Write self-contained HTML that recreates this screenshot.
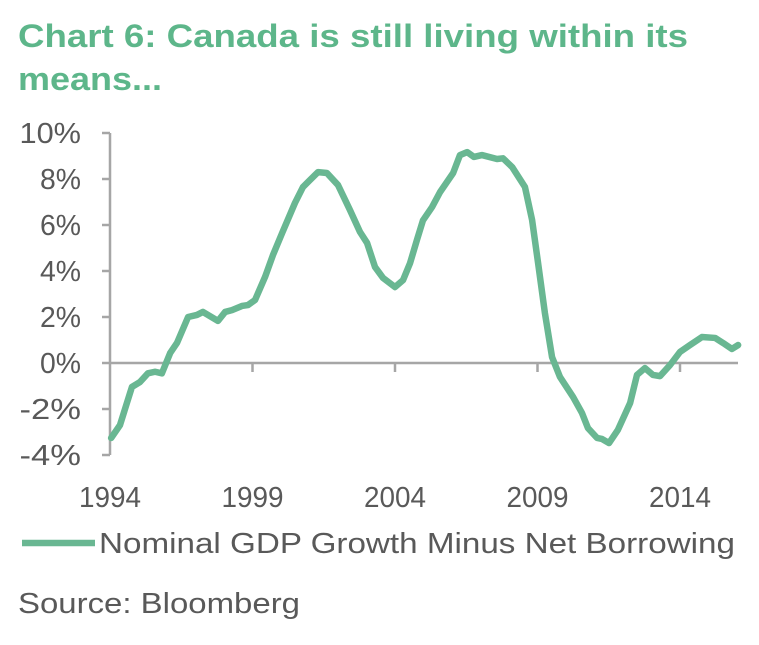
<!DOCTYPE html>
<html><head><meta charset="utf-8"><style>
body{margin:0;background:#fff;width:759px;height:645px;overflow:hidden;font-family:"Liberation Sans",Arial,sans-serif}
</style></head><body>
<svg id="c" width="759" height="645" style="position:absolute;left:0;top:0">
<text x="18" y="47" font-size="32" font-weight="bold" fill="#5db68a" textLength="670" lengthAdjust="spacingAndGlyphs">Chart 6: Canada is still living within its</text>
<text x="18" y="90" font-size="32" font-weight="bold" fill="#5db68a" textLength="144" lengthAdjust="spacingAndGlyphs">means...</text>
</svg>
<script>
const years=[1994.04,1994.35,1994.77,1995.05,1995.33,1995.58,1995.82,1996.11,1996.35,1996.74,1997.05,1997.26,1997.79,1998.04,1998.28,1998.63,1998.84,1999.09,1999.44,1999.72,2000.04,2000.49,2000.77,2001.02,2001.3,2001.61,2002.0,2002.42,2002.77,2003.02,2003.3,2003.58,2004.0,2004.28,2004.53,2004.77,2004.98,2005.3,2005.58,2006.04,2006.28,2006.53,2006.77,2007.05,2007.58,2007.79,2008.11,2008.56,2008.81,2009.02,2009.26,2009.51,2009.79,2010.25,2010.56,2010.77,2011.09,2011.26,2011.51,2011.82,2012.25,2012.49,2012.77,2013.05,2013.3,2013.65,2014.0,2014.35,2014.77,2015.23,2015.51,2015.82,2016.04];
const values=[-3.26,-2.7,-1.04,-0.83,-0.45,-0.38,-0.45,0.43,0.87,2.0,2.09,2.22,1.83,2.22,2.3,2.48,2.52,2.74,3.74,4.7,5.65,6.96,7.65,7.96,8.3,8.26,7.74,6.65,5.7,5.22,4.17,3.7,3.3,3.6,4.35,5.35,6.2,6.78,7.43,8.26,9.04,9.17,8.96,9.04,8.87,8.9,8.52,7.65,6.22,4.35,2.17,0.26,-0.61,-1.48,-2.17,-2.83,-3.26,-3.3,-3.48,-2.91,-1.74,-0.52,-0.22,-0.52,-0.57,-0.09,0.48,0.78,1.13,1.09,0.87,0.61,0.78];
const yTicks=[10,8,6,4,2,0,-2,-4];
const xTicks=[1994,1999,2004,2009,2014];
const NS="http://www.w3.org/2000/svg",svg=document.getElementById('c');
const X=y=>110+(y-1994)*28.5, Y=v=>363-v*23;
function mk(t,a,p){const e=document.createElementNS(NS,t);for(const k in a)e.setAttribute(k,a[k]);(p||svg).appendChild(e);return e;}
const ax=mk('g',{stroke:'#a6a6a6','stroke-width':2.5});


mk('line',{x1:110,y1:Y(10),x2:110,y2:Y(-4)},ax);
mk('line',{x1:110,y1:Y(0),x2:738,y2:Y(0)},ax);
yTicks.forEach(v=>{mk('line',{x1:102,y1:Y(v),x2:110,y2:Y(v)},ax);
const s=v+'%';
const t=mk('text',{x:81,y:Y(v)+10,'text-anchor':'end','font-size':29,fill:'#595959',textLength:s.length*20.5,lengthAdjust:'spacingAndGlyphs'});t.textContent=s;

});
xTicks.forEach(v=>{if(v>1994)mk('line',{x1:X(v),y1:Y(0),x2:X(v),y2:Y(0)+9},ax);
const t=mk('text',{x:X(v),y:507,'text-anchor':'middle','font-size':29,fill:'#595959',textLength:62,lengthAdjust:'spacingAndGlyphs'});t.textContent=v;

});
const p=mk('polyline',{points:years.map((y,i)=>X(y)+','+Y(values[i])).join(' '),fill:'none',stroke:'#69b792','stroke-width':6.5,'stroke-linejoin':'round','stroke-linecap':'round'});


const ll=mk('line',{x1:22,y1:543,x2:95,y2:543,stroke:'#69b792','stroke-width':6.5});


const lt=mk('text',{x:99,y:553,'font-size':29,fill:'#595959',textLength:636,lengthAdjust:'spacingAndGlyphs'});lt.textContent='Nominal GDP Growth Minus Net Borrowing';


const st=mk('text',{x:18,y:613,'font-size':29,fill:'#595959',textLength:282,lengthAdjust:'spacingAndGlyphs'});st.textContent='Source: Bloomberg';


</script>
</body></html>
